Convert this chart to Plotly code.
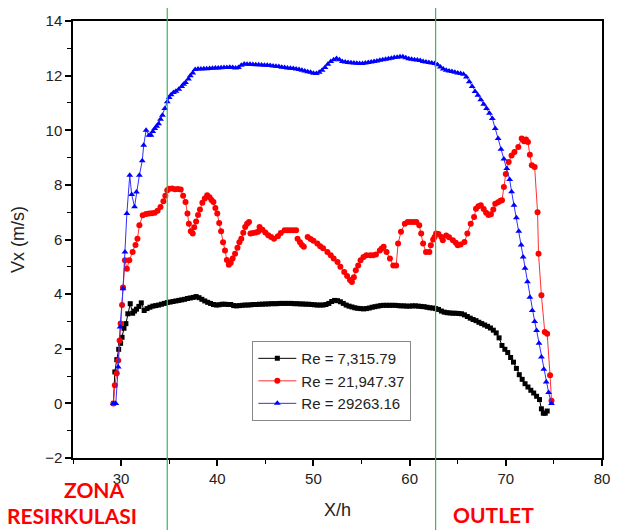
import plotly.graph_objects as go

# ---------------- data ----------------
series_names = ["Re = 7,315.79", "Re = 21,947.37", "Re = 29263.16"]

black_x = [29.2, 29.35, 29.55, 29.75, 29.95, 30.1, 30.3, 30.5, 30.7, 30.95,
           31.2, 31.4, 31.6, 31.85, 32.1, 32.4, 32.7,
           33.0, 33.3, 33.6, 33.9, 34.2, 34.5, 34.8, 35.1, 35.4, 35.7,
           36.0, 36.3, 36.6, 36.9, 37.2, 37.5, 37.8, 38.1, 38.4, 38.7,
           39.0, 39.3, 39.6, 39.9, 40.2, 40.5, 40.8, 41.1, 41.4, 41.7,
           42.0, 42.3, 42.6, 42.9, 43.2, 43.5, 43.8, 44.1, 44.4, 44.7,
           45.0, 45.3, 45.6, 45.9, 46.2, 46.5, 46.8, 47.1, 47.4, 47.7,
           48.0, 48.3, 48.6, 48.9, 49.2, 49.5, 49.8, 50.1, 50.4, 50.7,
           51.0, 51.3, 51.6, 51.9, 52.2, 52.5, 52.8, 53.1, 53.4, 53.7,
           54.0, 54.3, 54.6, 54.9, 55.2, 55.5, 55.8, 56.1, 56.4, 56.7,
           57.0, 57.3, 57.6, 57.9, 58.2, 58.5, 58.8, 59.1, 59.4, 59.7,
           60.0, 60.3, 60.6, 60.9, 61.2, 61.5, 61.8, 62.1, 62.4, 62.7,
           63.0, 63.3, 63.6, 63.9, 64.2, 64.5, 64.8, 65.1, 65.4, 65.7,
           66.0, 66.3, 66.6, 66.9, 67.2, 67.5, 67.8, 68.1, 68.4, 68.7,
           69.0, 69.3, 69.6, 69.9, 70.2, 70.5, 70.8, 71.1, 71.4, 71.7,
           72.0, 72.3, 72.6, 72.9, 73.2, 73.5, 73.7, 73.9, 74.1, 74.3]
black_y = [0.0, 1.15, 1.6, 1.98, 2.2, 2.42, 2.75, 2.92, 3.28, 3.65,
           3.3, 3.38, 3.45, 3.55, 3.68, 3.4, 3.47,
           3.52, 3.56, 3.58, 3.6, 3.63, 3.66, 3.69, 3.71, 3.73, 3.75,
           3.77, 3.79, 3.81, 3.84, 3.86, 3.88, 3.91, 3.87, 3.81, 3.75,
           3.7, 3.66, 3.62, 3.6, 3.61, 3.63, 3.63, 3.62, 3.62, 3.58,
           3.57, 3.58, 3.59, 3.6, 3.6, 3.61, 3.62, 3.62, 3.63, 3.63,
           3.64, 3.64, 3.65, 3.65, 3.65, 3.66, 3.66, 3.66, 3.66, 3.66,
           3.65, 3.65, 3.64, 3.64, 3.63, 3.63, 3.62, 3.61, 3.6, 3.6,
           3.6, 3.62, 3.66, 3.73, 3.77, 3.76, 3.72, 3.66, 3.6, 3.56,
           3.53, 3.5, 3.48, 3.47, 3.46, 3.47, 3.49, 3.52, 3.54, 3.56,
           3.58, 3.59, 3.59, 3.59, 3.59, 3.59, 3.58, 3.57, 3.57, 3.56,
           3.56, 3.57, 3.57, 3.56, 3.55, 3.54, 3.52, 3.5, 3.49, 3.47,
           3.44, 3.38, 3.34, 3.32, 3.31, 3.3, 3.3, 3.29, 3.28, 3.24,
           3.18, 3.12, 3.07, 3.03, 2.97, 2.92, 2.87, 2.82, 2.76, 2.68,
           2.58, 2.4, 2.12, 1.98, 1.86, 1.68, 1.51, 1.28, 1.05, 0.88,
           0.72, 0.6, 0.48, 0.38, 0.26, 0.14, -0.2, -0.36, -0.36, -0.28]

red_x = [29.2, 29.35, 29.55, 29.7, 29.85, 29.95, 30.1, 30.2, 30.4, 30.6,
         30.85, 31.2, 31.5, 31.7, 31.9, 32.25, 32.6, 32.9, 33.2, 33.5,
         33.8, 34.1, 34.4, 34.6, 34.8, 35.0, 35.3, 35.6, 35.9, 36.2,
         36.45, 36.7, 36.9, 37.05, 37.25, 37.45, 37.6, 37.8, 38.0, 38.2,
         38.45, 38.7, 38.95, 39.2, 39.4, 39.6, 39.8, 40.0, 40.2, 40.4,
         40.6, 40.8, 41.0, 41.2, 41.4, 41.6, 41.85, 42.1, 42.3, 42.5,
         42.7, 42.9, 43.1, 43.3, 43.38, 43.45, 43.7, 44.0, 44.25, 44.4,
         44.7, 45.0, 45.3, 45.6, 45.9, 46.3, 46.6, 47.0, 47.3, 47.6,
         47.9, 48.2, 48.28, 48.35, 48.6, 48.8, 49.0, 49.2, 49.4, 49.7,
         50.0, 50.4, 50.7, 51.0, 51.45, 51.8, 52.1, 52.5, 52.8, 53.2,
         53.5, 53.8, 54.0, 54.2, 54.4, 54.65, 54.9, 55.2, 55.5, 55.9,
         56.2, 56.5, 56.9, 57.1, 57.3, 57.6, 57.95, 58.3, 58.6, 58.8,
         59.1, 59.5, 59.8, 60.1, 60.4, 60.7, 61.0, 61.2, 61.4, 61.7,
         62.05, 62.2, 62.45, 62.6, 62.75, 63.0, 63.3, 63.45, 63.8, 64.1,
         64.5, 64.8, 65.0, 65.3, 65.7, 66.0, 66.35, 66.7, 66.9, 67.15,
         67.4, 67.7, 67.95, 68.2, 68.45, 68.7, 68.9, 69.2, 69.45, 69.6,
         69.8, 70.0, 70.3, 70.6, 70.9, 71.3, 71.65, 71.9, 72.1, 72.3,
         72.5, 72.7, 73.0, 73.3, 73.4, 73.7, 74.05, 74.3, 74.6, 74.75]
red_y = [0.0, 0.66, 1.1, 1.57, 2.3, 2.92, 3.6, 4.24, 5.24, 4.93,
         5.24, 5.54, 5.8, 6.03, 6.52, 6.89, 6.93, 6.95, 6.96, 6.98,
         7.05, 7.19, 7.4, 7.6, 7.8, 7.86, 7.87, 7.84, 7.85, 7.83,
         7.6, 7.37, 6.95, 6.58, 6.3, 6.22, 6.45, 6.66, 6.9, 7.1,
         7.35, 7.5, 7.62, 7.55, 7.45, 7.37, 7.15, 6.95, 6.6, 6.3,
         5.9, 5.6, 5.25, 5.08, 5.15, 5.3, 5.48, 5.7, 5.9, 6.03,
         6.25, 6.46, 6.58, 6.64, None, 6.22, 6.24, 6.26, 6.28, 6.46,
         6.36, 6.26, 6.16, 6.09, 6.03, 6.12, 6.24, 6.34, 6.34, 6.34,
         6.34, 6.34, None, 6.03, 5.9, 5.8, 5.73, None, 6.09, 6.02,
         5.95, 5.85, 5.75, 5.68, 5.54, 5.42, 5.3, 5.18, 5.0, 4.81,
         4.66, 4.52, 4.44, 4.62, 4.87, 5.05, 5.24, 5.36, 5.42, 5.42,
         5.42, 5.45, 5.6, 5.67, 5.73, 5.54, 5.3, 5.05, 5.05, 5.85,
         6.28, 6.58, 6.64, 6.64, 6.64, 6.64, 6.52, 6.22, 5.85, 5.54,
         5.54, 5.79, 6.0, 6.09, 6.22, 6.2, 6.09, 5.97, 6.15, 6.08,
         5.97, 5.88, 5.79, 5.82, 5.91, 6.22, 6.58, 6.82, 7.13, 7.22,
         7.25, 7.12, 6.98, 6.9, 6.92, 7.1, 7.31, 7.36, 7.42, 7.44,
         7.92, 8.4, 8.84, 9.08, 9.2, 9.39, 9.7, 9.6, 9.66, 9.57,
         9.1, 8.72, 8.65, 7.0, 5.48, 3.96, 2.61, 2.55, 1.03, 0.1]

blue_x = [29.2, 29.45, 29.7, 29.9, 30.2, 30.4, 30.6, 30.9, 31.1, 31.4,
          31.6, 31.9, 32.2, 32.35, 32.6, 32.9, 33.1, 33.3, 33.5, 33.7,
          33.9, 34.1, 34.3, 34.55, 34.8, 35.0, 35.2, 35.45, 35.7, 36.0,
          36.3, 36.5, 36.7, 37.0, 37.2, 37.45, 37.7, 38.0, 38.3, 38.6,
          38.9, 39.2, 39.5, 39.8, 40.1, 40.4, 40.7, 41.0, 41.3, 41.6,
          41.9, 42.2, 42.5, 42.8, 43.1, 43.4, 43.7, 44.0, 44.3, 44.6,
          44.9, 45.2, 45.5, 45.8, 46.1, 46.4, 46.7, 47.0, 47.3, 47.6,
          47.9, 48.2, 48.5, 48.8, 49.1, 49.4, 49.7, 50.0, 50.3, 50.6,
          50.9, 51.2, 51.5, 51.8, 52.1, 52.4, 52.7, 53.0, 53.3, 53.6,
          53.9, 54.2, 54.5, 54.8, 55.1, 55.4, 55.7, 56.0, 56.3, 56.6,
          56.9, 57.2, 57.5, 57.8, 58.1, 58.4, 58.7, 59.0, 59.3, 59.6,
          59.9, 60.2, 60.5, 60.8, 61.1, 61.4, 61.7, 62.0, 62.3, 62.6,
          62.9, 63.2, 63.5, 63.8, 64.1, 64.4, 64.7, 65.0, 65.3, 65.6,
          65.9, 66.2, 66.5, 66.8, 67.1, 67.4, 67.7, 68.0, 68.3, 68.6,
          68.9, 69.2, 69.5, 69.8, 70.1, 70.4, 70.6, 70.85, 71.1, 71.35,
          71.6, 71.8, 72.0, 72.25, 72.5, 72.75, 73.0, 73.2, 73.45, 73.7,
          73.95, 74.2, 74.45, 74.75]
blue_y = [0.0, 0.0, 1.33, 2.8, 4.2, 5.54, 6.95, 8.35, 7.65, 7.2,
          7.74, 8.35, 8.88, 9.45, 10.0, 9.82, 9.82, 9.95, 10.06, 10.15,
          10.24, 10.4, 10.55, 10.8, 11.04, 11.2, 11.3, 11.38, 11.43, 11.5,
          11.6, 11.68, 11.75, 11.88, 12.0, 12.1, 12.22, 12.24, 12.24, 12.25,
          12.25, 12.26, 12.27, 12.28, 12.28, 12.29, 12.3, 12.3, 12.31, 12.3,
          12.28, 12.3, 12.38, 12.43, 12.42, 12.42, 12.41, 12.4, 12.4, 12.39,
          12.38, 12.38, 12.37, 12.35, 12.34, 12.33, 12.31, 12.3, 12.28, 12.27,
          12.26, 12.24, 12.22, 12.2, 12.17, 12.14, 12.12, 12.09, 12.08, 12.12,
          12.2, 12.3, 12.42, 12.52, 12.58, 12.63, 12.58, 12.52, 12.5, 12.48,
          12.47, 12.46, 12.45, 12.44, 12.44, 12.46, 12.48, 12.5, 12.52, 12.54,
          12.56, 12.58, 12.6, 12.62, 12.64, 12.66, 12.67, 12.69, 12.69, 12.65,
          12.62, 12.6, 12.58, 12.57, 12.55, 12.52, 12.5, 12.48, 12.46, 12.44,
          12.4, 12.32, 12.24, 12.2, 12.17, 12.15, 12.12, 12.1, 12.08, 12.05,
          11.95, 11.78, 11.6, 11.42, 11.28, 11.12, 10.95, 10.8, 10.62, 10.43,
          10.06, 9.7, 9.3, 8.95, 8.6, 8.2, 7.75, 7.25, 6.8, 6.3,
          5.8, 5.36, 4.95, 4.45, 3.89, 3.4, 3.0, 2.67, 2.2, 1.7,
          1.25, 0.78, 0.4, 0.0]

zone_lines_x = [34.8, 62.7]
x_ticks = [30, 40, 50, 60, 70, 80]
y_ticks = [-2, 0, 2, 4, 6, 8, 10, 12, 14]

# ---------------- figure ----------------
fig = go.Figure()
fig.add_trace(go.Scatter(x=black_x, y=black_y, name=series_names[0], mode="lines+markers",
                         line=dict(color="#000000", width=1),
                         marker=dict(symbol="square", size=5, color="#000000")))
fig.add_trace(go.Scatter(x=red_x, y=red_y, name=series_names[1], mode="lines+markers",
                         line=dict(color="#ff3030", width=1),
                         marker=dict(symbol="circle", size=6, color="#ff0000")))
fig.add_trace(go.Scatter(x=blue_x, y=blue_y, name=series_names[2], mode="lines+markers",
                         line=dict(color="#3030ff", width=1),
                         marker=dict(symbol="triangle-up", size=6, color="#0000ff")))

for xv in zone_lines_x:
    fig.add_shape(type="line", xref="x", yref="paper", x0=xv, x1=xv, y0=-0.175, y1=1.03,
                  line=dict(color="#2ebd5c", width=1.2), layer="above")

axis_font = dict(family="Liberation Sans, Arial, sans-serif", size=15, color="#222222")
fig.update_xaxes(range=[25, 80], tickvals=x_ticks, showline=True, linecolor="black", linewidth=1.5,
                 mirror=True, ticks="outside", ticklen=6, tickwidth=1.5, tickcolor="black",
                 minor=dict(dtick=5, ticks="outside", ticklen=4, tickwidth=1.2, tickcolor="black"),
                 showgrid=False, zeroline=False, tickfont=axis_font,
                 title=dict(text="X/h", font=dict(family="Liberation Sans, Arial, sans-serif", size=18, color="#222222"), standoff=18))
fig.update_yaxes(range=[-2, 14], tickvals=y_ticks, showline=True, linecolor="black", linewidth=1.5,
                 mirror=True, ticks="outside", ticklen=6, tickwidth=1.5, tickcolor="black",
                 minor=dict(dtick=1, ticks="outside", ticklen=4, tickwidth=1.2, tickcolor="black"),
                 showgrid=False, zeroline=False, tickfont=axis_font,
                 title=dict(text="Vx (m/s)", font=dict(family="Liberation Sans, Arial, sans-serif", size=18, color="#222222"), standoff=16))

ann_font = dict(family="Lato, Open Sans, sans-serif", size=21, color="#ff0000", weight="bold")
fig.add_annotation(text="<b>ZONA</b>", xref="paper", yref="paper", x=0.040, y=-0.071,
                   showarrow=False, font=ann_font, xanchor="center", yanchor="middle")
fig.add_annotation(text="<b>RESIRKULASI</b>", xref="paper", yref="paper", x=-0.128, y=-0.131,
                   showarrow=False, font=ann_font, xanchor="left", yanchor="middle")
fig.add_annotation(text="<b>OUTLET</b>", xref="paper", yref="paper", x=0.795, y=-0.130,
                   showarrow=False, font=ann_font, xanchor="center", yanchor="middle")

fig.update_layout(
    width=622, height=530,
    margin=dict(l=73, r=12, t=21, b=72),
    paper_bgcolor="white", plot_bgcolor="white",
    showlegend=True,
    legend=dict(x=0.339, y=0.176, xanchor="left", yanchor="middle",
                bordercolor="#888888", borderwidth=1, bgcolor="white",
                font=dict(family="Liberation Sans, Arial, sans-serif", size=15, color="#222222"),
                itemwidth=38, tracegroupgap=0),
)

fig.write_html("out.html", config={"displayModeBar": False},
               post_script="document.body.style.margin='0px';document.body.style.overflow='hidden';")
